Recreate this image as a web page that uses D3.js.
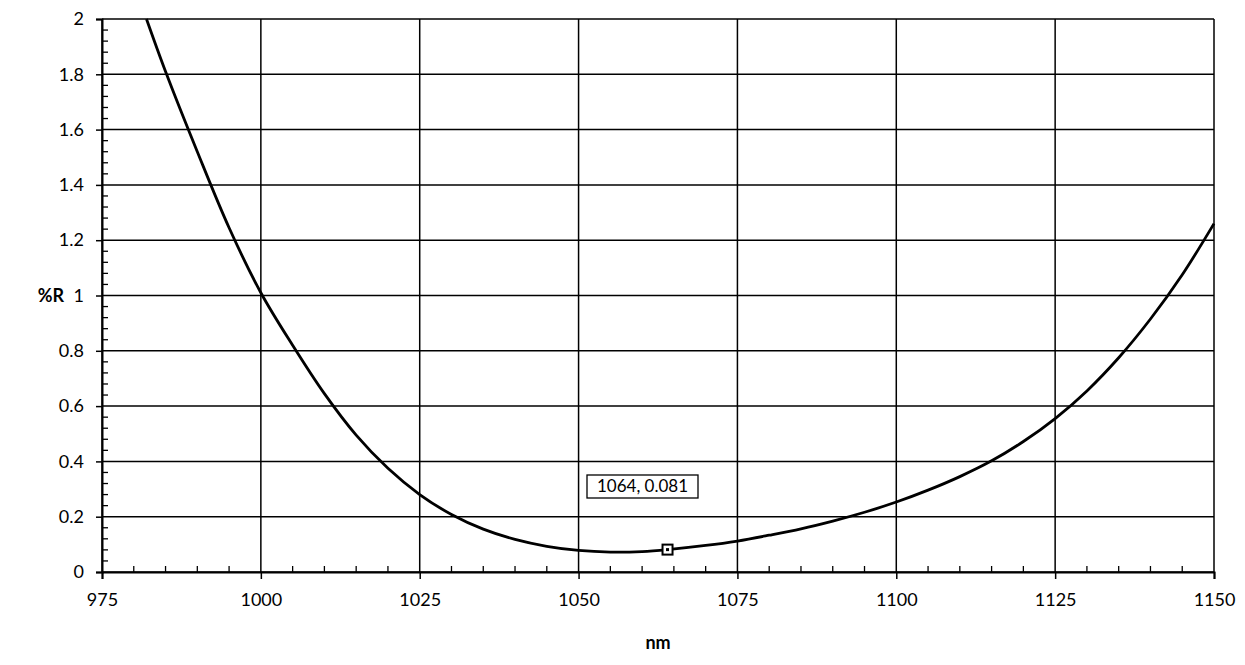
<!DOCTYPE html>
<html><head><meta charset="utf-8">
<script src="https://cdn.jsdelivr.net/npm/d3@7"></script>
<style>body{margin:0;background:#fff}svg{display:block}text{font-family:Lato,"Open Sans",sans-serif;fill:#000}</style>
</head><body><svg id="c" width="1245" height="665"></svg>
<script>
const wavelengths = [982,985,990,995,1000,1005,1010,1015,1020,1025,1030,1035,1040,1045,1050,1055,1060,1064,1070,1075,1080,1085,1090,1095,1100,1105,1110,1115,1120,1125,1130,1135,1140,1145,1150];
const reflectance = [2.0,1.81,1.52,1.245,1.01,0.82,0.645,0.495,0.375,0.28,0.208,0.155,0.118,0.093,0.078,0.072,0.074,0.081,0.096,0.112,0.133,0.156,0.184,0.216,0.253,0.296,0.345,0.402,0.472,0.555,0.655,0.775,0.915,1.075,1.26];
const xTicks = [975,1000,1025,1050,1075,1100,1125,1150];
const yTicks = [0,0.2,0.4,0.6,0.8,1,1.2,1.4,1.6,1.8,2];
const callout = {x:1064, y:0.081, label:"1064, 0.081"};
const xTitle = "nm", yTitle = "%R";

const svg = d3.select("#c");
const L=102,R=1214,T=19,B=572;
const x = d3.scaleLinear().domain([975,1150]).range([L,R]);
const y = d3.scaleLinear().domain([0,2]).range([B,T]);

// grid
svg.append("g").selectAll("line").data(yTicks).join("line")
  .attr("x1",L).attr("x2",R).attr("y1",d=>y(d)).attr("y2",d=>y(d))
  .attr("stroke","#000").attr("stroke-width",1.5);
svg.append("g").selectAll("line").data(xTicks).join("line")
  .attr("x1",d=>x(d)).attr("x2",d=>x(d)).attr("y1",T).attr("y2",B)
  .attr("stroke","#000").attr("stroke-width",1.5);

// minor ticks
const xMinor = d3.range(975,1150.1,5).filter(v=>!xTicks.includes(v));
svg.append("g").selectAll("line").data(xMinor).join("line")
  .attr("x1",d=>x(d)).attr("x2",d=>x(d)).attr("y1",B).attr("y2",B-6)
  .attr("stroke","#000").attr("stroke-width",1.3);
const yMinor = d3.range(0,2.001,0.04).filter(v=>Math.abs(v*5-Math.round(v*5))>1e-6);
svg.append("g").selectAll("line").data(yMinor).join("line")
  .attr("x1",L).attr("x2",L+6).attr("y1",d=>y(d)).attr("y2",d=>y(d))
  .attr("stroke","#000").attr("stroke-width",1.3);

// axes
const xAxis = d3.axisBottom(x).tickValues(xTicks).tickSize(7).tickPadding(14).tickFormat(d3.format("d"));
const gx = svg.append("g").attr("transform",`translate(0,${B})`).call(xAxis);
const yAxis = d3.axisLeft(y).tickValues(yTicks).tickSize(6).tickPadding(12).tickFormat(d=>String(+d.toFixed(1)));
const gy = svg.append("g").attr("transform",`translate(${L},0)`).call(yAxis);
[gx,gy].forEach(g=>{
  g.attr("font-size",null).attr("font-family",null);
  g.select(".domain").attr("stroke","#000").attr("stroke-width",2);
  g.selectAll(".tick line").attr("stroke","#000").attr("stroke-width",1.5);
  g.selectAll(".tick text").style("font-size","18px").style("font-family","Lato, sans-serif");
});

// titles
svg.append("text").attr("x",51).attr("y",y(1)).attr("dy","0.35em").attr("text-anchor","middle")
  .style("font-size","18px").attr("font-weight","bold").text(yTitle);
svg.append("text").attr("x",(L+R)/2).attr("y",649).attr("text-anchor","middle")
  .style("font-size","18px").attr("font-weight","bold").text(xTitle);

// curve
const data = wavelengths.map((w,i)=>({w,r:reflectance[i]}));
svg.append("path").datum(data)
  .attr("d",d3.line().x(d=>x(d.w)).y(d=>y(d.r)).curve(d3.curveCatmullRom.alpha(0.5)))
  .attr("fill","none").attr("stroke","#000").attr("stroke-width",2.8);

// marker and callout
const mx=x(callout.x), my=y(callout.y);
svg.append("rect").attr("x",mx-5).attr("y",my-5).attr("width",10).attr("height",10)
  .attr("fill","#fff").attr("stroke","#000").attr("stroke-width",2);
svg.append("rect").attr("x",mx-1.5).attr("y",my-1.5).attr("width",3).attr("height",3).attr("fill","#000");
const lbl = svg.append("g");
lbl.append("rect").attr("x",587).attr("y",475).attr("width",111).attr("height",23)
  .attr("fill","#fff").attr("stroke","#000").attr("stroke-width",1.3);
lbl.append("text").attr("x",642.5).attr("y",486.5).attr("dy","0.35em").attr("text-anchor","middle")
  .style("font-size","17px").text(callout.label);
</script></body></html>
